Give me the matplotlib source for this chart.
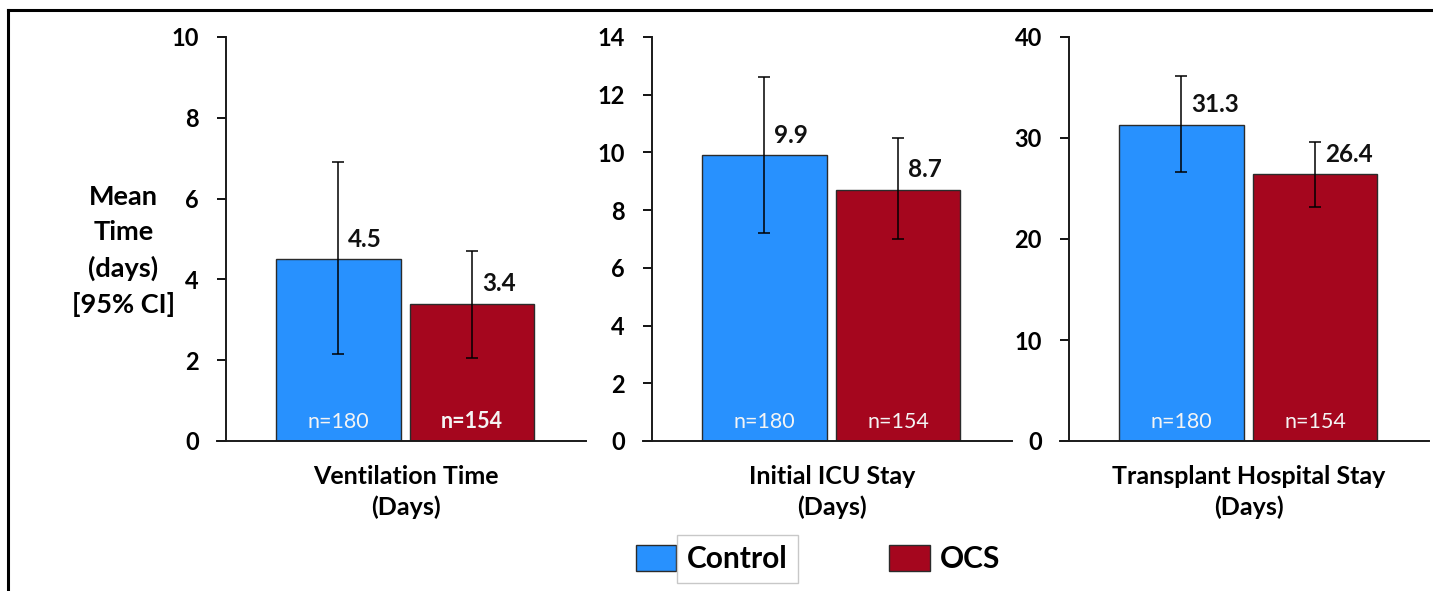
import numpy as np
import matplotlib
matplotlib.use("Agg")
import matplotlib.pyplot as plt
from matplotlib.patches import Patch
from matplotlib.lines import Line2D

plt.rcParams['font.family'] = ['Lato', 'DejaVu Sans']

# data
groups = ["Control", "OCS"]
panel_titles = ["Ventilation Time\n(Days)", "Initial ICU Stay\n(Days)", "Transplant Hospital Stay\n(Days)"]
means = [[4.5, 3.4], [9.9, 8.7], [31.3, 26.4]]
ci_low = [[2.15, 2.05], [7.2, 7.0], [26.6, 23.2]]
ci_high = [[6.9, 4.7], [12.6, 10.5], [36.1, 29.6]]
n_labels = ["n=180", "n=154"]
y_max = [10, 14, 40]
y_step = [2, 2, 10]
n_bold = [[False, True], [False, False], [False, False]]

colors = ["#2891FE", "#A5061E"]
edge = "#2b2b2b"

fig = plt.figure(figsize=(14.33, 5.91), dpi=100)

lefts = [226 / 1433, 652 / 1433, 1069 / 1433]
bottom = 1 - 441 / 591
height = (441 - 37) / 591
width = 360 / 1433

x = np.arange(len(groups))
for k in range(3):
    ax = fig.add_axes([lefts[k], bottom, width, height])
    m = np.array(means[k])
    lo = m - np.array(ci_low[k])
    hi = np.array(ci_high[k]) - m
    ax.bar(x, m, width=0.93, color=colors, edgecolor=edge, linewidth=1.0, zorder=2)
    ax.errorbar(x, m, yerr=[lo, hi], fmt='none', ecolor='black', elinewidth=1.1,
                capsize=4, capthick=1.1, zorder=3)
    for i in range(len(groups)):
        ax.annotate(f"{m[i]:.1f}", xy=(x[i], m[i]), xytext=(7, 9), textcoords='offset points',
                    ha='left', va='baseline', fontsize=17.5, fontweight='bold', color='#111111')
        ax.annotate(n_labels[i], xy=(x[i], 0), xytext=(0, 9), textcoords='offset points',
                    ha='center', va='baseline', fontsize=15.5, color='#f4f4f4',
                    fontweight='bold' if n_bold[k][i] else 'normal')
    ax.set_xlim(-0.84, 1.85)
    ax.set_ylim(0, y_max[k])
    ax.set_yticks(np.arange(0, y_max[k] + 1, y_step[k]))
    ax.set_xticks([])
    for s in ['top', 'right']:
        ax.spines[s].set_visible(False)
    for s in ['left', 'bottom']:
        ax.spines[s].set_linewidth(1.4)
        ax.spines[s].set_color('#1a1a1a')
    ax.spines['bottom'].set_bounds(-0.84 - 9 / 134, 1.85)
    ax.spines['bottom'].set_clip_on(False)
    ax.tick_params(axis='y', direction='out', length=6.5, width=1.3, pad=13, labelsize=17)
    for t in ax.get_yticklabels():
        t.set_fontweight('bold')
    ax.set_xlabel(panel_titles[k], fontsize=18, fontweight='bold', labelpad=17, linespacing=1.42)
    ax.patch.set_visible(False)
    if k == 0:
        ax.set_ylabel("Mean\nTime\n(days)\n[95% CI]", fontsize=19.5, fontweight='bold',
                      rotation=0, ha='center', va='center', linespacing=1.55)
        ax.yaxis.set_label_coords(-0.285, 0.47)

handles = [Patch(facecolor=colors[0], edgecolor=edge), Patch(facecolor=colors[1], edgecolor=edge)]
leg = fig.legend(handles, groups, loc='center', bbox_to_anchor=(0.571, 0.0545), ncol=2,
                 frameon=False, handlelength=1.35, handleheight=0.97, handletextpad=0.35,
                 columnspacing=3.4, prop={'size': 21.5, 'weight': 'bold'})
leg.get_texts()[0].set_bbox(dict(facecolor='white', edgecolor='#c8c8c8', pad=7))

# outer frame (left and top edges)
fig.add_artist(Line2D([8 / 1433, 8 / 1433], [0, 1 - 10 / 591], color='black', linewidth=2.2))
fig.add_artist(Line2D([8 / 1433, 1], [1 - 10 / 591, 1 - 10 / 591], color='black', linewidth=2.2))

fig.savefig("out.png", dpi=100)
